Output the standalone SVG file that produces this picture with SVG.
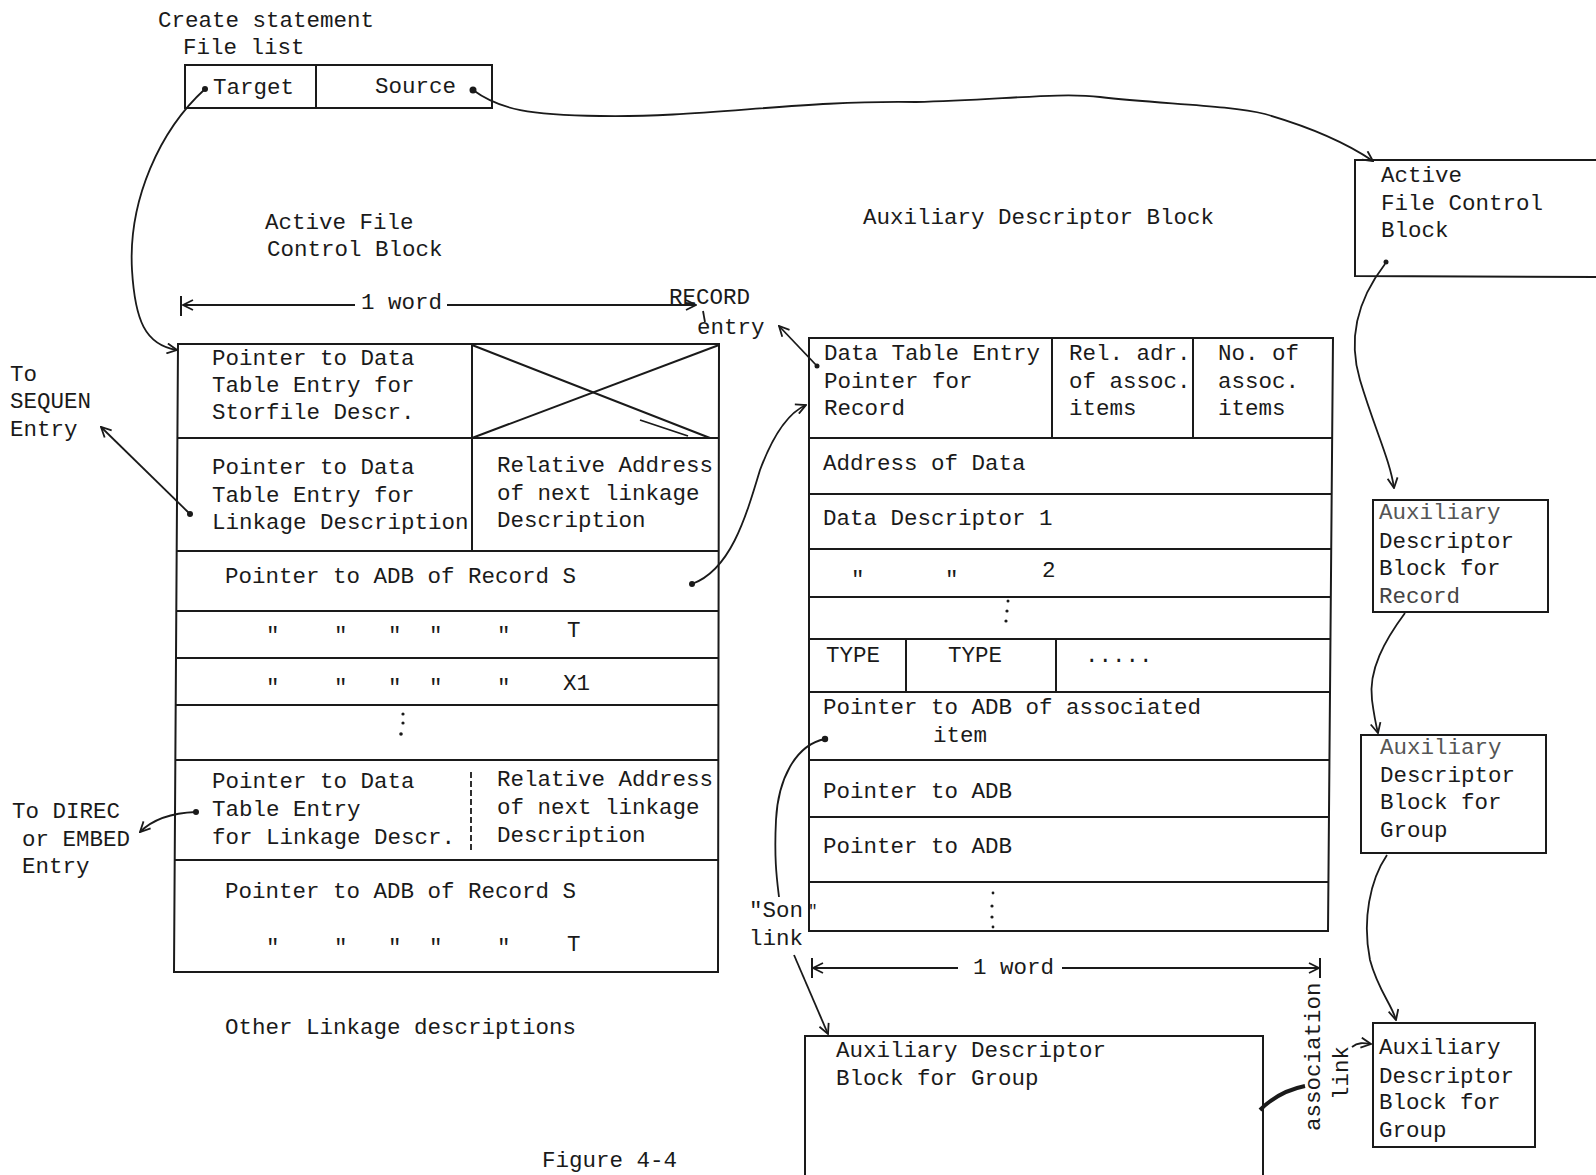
<svg xmlns="http://www.w3.org/2000/svg" width="1596" height="1175" viewBox="0 0 1596 1175">
<defs>
<style>
.t{font-family:"Liberation Mono","Courier New",monospace;font-size:22.5px;fill:#1a1a1a}
.b{fill:none;stroke:#1a1a1a;stroke-width:2}
.c{fill:none;stroke:#1a1a1a;stroke-width:1.8}
.d{fill:#1a1a1a}
</style>
<marker id="ah" viewBox="0 0 12 12" refX="11" refY="6" markerWidth="12" markerHeight="12" markerUnits="userSpaceOnUse" orient="auto">
<path d="M1,1 L11,6 L1,11" fill="none" stroke="#1a1a1a" stroke-width="1.8"/>
</marker>
<marker id="ahs" viewBox="0 0 12 12" refX="1" refY="6" markerWidth="12" markerHeight="12" markerUnits="userSpaceOnUse" orient="auto">
<path d="M11,1 L1,6 L11,11" fill="none" stroke="#1a1a1a" stroke-width="1.8"/>
</marker>
</defs>
<rect width="1596" height="1175" fill="#ffffff"/>

<g id="file-list">
<text class="t" x="158" y="27">Create statement</text>
<text class="t" x="183" y="54">File list</text>
<rect class="b" x="185" y="65" width="307" height="43"/>
<line class="b" x1="316" y1="65" x2="316" y2="108"/>
<text class="t" x="213" y="94">Target</text>
<text class="t" x="375" y="93">Source</text>
</g>

<g id="afcb-labels">
<text class="t" x="265" y="229">Active File</text>
<text class="t" x="267" y="256">Control Block</text>
<text class="t" x="361" y="309">1 word</text>
<text class="t" x="669" y="304">RECORD</text>
<text class="t" x="697" y="334">entry</text>
</g>

<g id="afcb">
<path class="b" d="M178,344 L719,344 L718,972 L174,972 Z"/>
<line class="b" x1="178" y1="438" x2="719" y2="438"/>
<line class="b" x1="177" y1="551" x2="719" y2="551"/>
<line class="b" x1="177" y1="611" x2="719" y2="611"/>
<line class="b" x1="177" y1="658" x2="719" y2="658"/>
<line class="b" x1="176" y1="705" x2="719" y2="705"/>
<line class="b" x1="176" y1="760" x2="719" y2="760"/>
<line class="b" x1="175" y1="860" x2="719" y2="860"/>
<line class="b" x1="472" y1="344" x2="472" y2="551"/>
<line class="c" x1="471" y1="772" x2="471" y2="850" stroke-dasharray="6,3"/>
<line class="b" x1="472" y1="438" x2="719" y2="345"/>
<line class="b" x1="472" y1="345" x2="710" y2="438"/>
<line class="c" x1="640" y1="420" x2="688" y2="436"/>
<text class="t" x="212" y="365">Pointer to Data</text>
<text class="t" x="212" y="392">Table Entry for</text>
<text class="t" x="212" y="419">Storfile Descr.</text>
<text class="t" x="212" y="474">Pointer to Data</text>
<text class="t" x="212" y="502">Table Entry for</text>
<text class="t" x="212" y="529">Linkage Description</text>
<text class="t" x="497" y="472">Relative Address</text>
<text class="t" x="497" y="500">of next linkage</text>
<text class="t" x="497" y="527">Description</text>
<text class="t" x="225" y="583">Pointer to ADB of Record S</text>
<text class="t" x="266" y="642">"</text><text class="t" x="334" y="642">"</text><text class="t" x="388" y="642">"</text><text class="t" x="429" y="642">"</text><text class="t" x="497" y="642">"</text>
<text class="t" x="567" y="637">T</text>
<text class="t" x="266" y="694">"</text><text class="t" x="334" y="694">"</text><text class="t" x="388" y="694">"</text><text class="t" x="429" y="694">"</text><text class="t" x="497" y="694">"</text>
<text class="t" x="563" y="690">X1</text>
<circle class="d" cx="403" cy="714" r="1.6"/><circle class="d" cx="403" cy="723" r="1.6"/><circle class="d" cx="401" cy="734" r="1.8"/>
<text class="t" x="212" y="788">Pointer to Data</text>
<text class="t" x="212" y="816">Table Entry</text>
<text class="t" x="212" y="844">for Linkage Descr.</text>
<text class="t" x="497" y="786">Relative Address</text>
<text class="t" x="497" y="814">of next linkage</text>
<text class="t" x="497" y="842">Description</text>
<text class="t" x="225" y="898">Pointer to ADB of Record S</text>
<text class="t" x="266" y="954">"</text><text class="t" x="334" y="954">"</text><text class="t" x="388" y="954">"</text><text class="t" x="429" y="954">"</text><text class="t" x="497" y="954">"</text>
<text class="t" x="567" y="951">T</text>
</g>

<g id="left-labels">
<text class="t" x="10" y="381">To</text>
<text class="t" x="10" y="408">SEQUEN</text>
<text class="t" x="10" y="436">Entry</text>
<text class="t" x="12" y="818">To DIREC</text>
<text class="t" x="22" y="846">or EMBED</text>
<text class="t" x="22" y="873">Entry</text>
<text class="t" x="225" y="1034">Other Linkage descriptions</text>
<text class="t" x="542" y="1167">Figure 4-4</text>
</g>

<g id="adb">
<text class="t" x="863" y="224">Auxiliary Descriptor Block</text>
<path class="b" d="M809,338 L1333,338 L1328,931 L809,931 Z"/>
<line class="b" x1="809" y1="438" x2="1333" y2="438"/>
<line class="b" x1="809" y1="494" x2="1332" y2="494"/>
<line class="b" x1="809" y1="549" x2="1332" y2="549"/>
<line class="c" x1="809" y1="597" x2="1331" y2="597"/>
<line class="b" x1="809" y1="639" x2="1331" y2="639"/>
<line class="b" x1="809" y1="692" x2="1331" y2="692"/>
<line class="b" x1="809" y1="760" x2="1330" y2="760"/>
<line class="b" x1="809" y1="817" x2="1329" y2="817"/>
<line class="b" x1="809" y1="882" x2="1329" y2="882"/>
<line class="b" x1="1052" y1="338" x2="1052" y2="438"/>
<line class="b" x1="1193" y1="338" x2="1193" y2="438"/>
<line class="b" x1="906" y1="639" x2="906" y2="692"/>
<line class="b" x1="1056" y1="639" x2="1056" y2="692"/>
<text class="t" x="824" y="360">Data Table Entry</text>
<text class="t" x="824" y="388">Pointer for</text>
<text class="t" x="824" y="415">Record</text>
<text class="t" x="1069" y="360">Rel. adr.</text>
<text class="t" x="1069" y="388">of assoc.</text>
<text class="t" x="1069" y="415">items</text>
<text class="t" x="1218" y="360">No. of</text>
<text class="t" x="1218" y="388">assoc.</text>
<text class="t" x="1218" y="415">items</text>
<text class="t" x="823" y="470">Address of Data</text>
<text class="t" x="823" y="525">Data Descriptor 1</text>
<text class="t" x="851" y="586">"</text><text class="t" x="945" y="586">"</text>
<text class="t" x="1042" y="577">2</text>
<circle class="d" cx="1008" cy="601" r="1.5"/><circle class="d" cx="1007" cy="611" r="1.6"/><circle class="d" cx="1006" cy="621" r="1.6"/>
<text class="t" x="826" y="662">TYPE</text>
<text class="t" x="948" y="662">TYPE</text>
<text class="t" x="1085" y="662">.....</text>
<text class="t" x="823" y="714">Pointer to ADB of associated</text>
<text class="t" x="933" y="742">item</text>
<text class="t" x="823" y="798">Pointer to ADB</text>
<text class="t" x="823" y="853">Pointer to ADB</text>
<circle class="d" cx="993" cy="893" r="1.4"/><circle class="d" cx="992" cy="906" r="1.6"/><circle class="d" cx="992" cy="917" r="1.6"/><circle class="d" cx="993" cy="927" r="1.4"/>
<text class="t" x="749" y="917">"Son</text>
<text class="t" x="808" y="916" style="font-size:16px">"</text>
<text class="t" x="749" y="945">link</text>
<text class="t" x="973" y="974">1 word</text>
</g>

<g id="adb-group-bottom">
<path class="b" d="M805,1175 L805,1036 L1263,1036 L1263,1175"/>
<text class="t" x="836" y="1057">Auxiliary Descriptor</text>
<text class="t" x="836" y="1085">Block for Group</text>
</g>

<g id="assoc-label">
<text class="t" transform="translate(1320,1131) rotate(-90)">association</text>
<text class="t" transform="translate(1348,1100) rotate(-90)">link</text>
</g>

<g id="afcb-right">
<path class="b" d="M1596,160 L1355,160 L1355,276 L1596,277"/>
<text class="t" x="1381" y="182">Active</text>
<text class="t" x="1381" y="210">File Control</text>
<text class="t" x="1381" y="237">Block</text>
</g>

<g id="adb-record-right">
<rect class="b" x="1373" y="500" width="175" height="112"/>
<text class="t" x="1379" y="519" style="fill:#555">Auxiliary</text>
<text class="t" x="1379" y="548">Descriptor</text>
<text class="t" x="1379" y="575">Block for</text>
<text class="t" x="1379" y="603" style="fill:#444">Record</text>
</g>

<g id="adb-group-right">
<rect class="b" x="1361" y="735" width="185" height="118"/>
<text class="t" x="1380" y="754" style="fill:#555">Auxiliary</text>
<text class="t" x="1380" y="782">Descriptor</text>
<text class="t" x="1380" y="809">Block for</text>
<text class="t" x="1380" y="837">Group</text>
</g>

<g id="adb-group-right-2">
<rect class="b" x="1373" y="1023" width="162" height="124"/>
<text class="t" x="1379" y="1054">Auxiliary</text>
<text class="t" x="1379" y="1083">Descriptor</text>
<text class="t" x="1379" y="1109">Block for</text>
<text class="t" x="1379" y="1137">Group</text>
</g>

<g id="connectors">
<path class="c" d="M205,89 C160,130 128,200 132,270 C135,320 145,345 177,350" marker-end="url(#ah)"/>
<circle class="d" cx="205" cy="89" r="3"/>
<path class="c" d="M473,90 C500,110 530,115 600,116 C700,118 800,100 916,102 C1000,100 1060,92 1100,97 C1160,104 1230,105 1265,114 C1310,127 1345,142 1373,161" marker-end="url(#ah)" stroke-width="2.2"/>
<circle class="d" cx="473" cy="90" r="3.5"/>
<path class="c" d="M1385,264 C1365,290 1345,330 1360,380 C1375,430 1390,460 1394,488" marker-end="url(#ah)" stroke-width="1.4"/>
<circle class="d" cx="1386" cy="262" r="2.5"/>
<path class="c" d="M1405,613 C1385,640 1368,670 1372,700 C1374,715 1376,725 1378,733" marker-end="url(#ah)" stroke-width="1.4"/>
<path class="c" d="M1387,855 C1370,880 1362,920 1370,960 C1378,990 1392,1005 1396,1020" marker-end="url(#ah)" stroke-width="1.4"/>
<path class="c" d="M1352,1047 C1358,1042 1364,1043 1371,1044" marker-end="url(#ah)"/>
<path class="c" d="M190,514 L101,427" marker-end="url(#ah)"/>
<circle class="d" cx="190" cy="514" r="3"/>
<path class="c" d="M196,812 C170,813 152,820 140,832" marker-end="url(#ah)"/>
<circle class="d" cx="196" cy="812" r="3"/>
<path class="c" d="M817,366 L779,326" marker-end="url(#ah)"/>
<circle class="d" cx="817" cy="366" r="2.5"/>
<path class="c" d="M692,584 C730,570 745,520 760,470 C775,430 790,412 806,405" marker-end="url(#ah)" stroke-width="1.4"/>
<circle class="d" cx="692" cy="584" r="3"/>
<path class="c" d="M825,739 C795,745 778,780 776,820 C774,860 777,880 779,897"/>
<circle class="d" cx="825" cy="739" r="3.2"/>
<path class="c" d="M794,955 L828,1034" marker-end="url(#ah)"/>
<path d="M1260,1110 C1275,1095 1290,1089 1305,1086" fill="none" stroke="#1a1a1a" stroke-width="4"/>
<line class="c" x1="703" y1="311" x2="705" y2="322"/>
<line class="c" x1="183" y1="305" x2="355" y2="305" marker-start="url(#ahs)"/>
<line class="c" x1="447" y1="305" x2="696" y2="305" marker-end="url(#ah)"/>
<line class="b" x1="181" y1="296" x2="181" y2="316"/>
<line class="c" x1="813" y1="968" x2="958" y2="968" marker-start="url(#ahs)"/>
<line class="c" x1="1062" y1="968" x2="1319" y2="968" marker-end="url(#ah)"/>
<line class="b" x1="812" y1="958" x2="812" y2="978"/>
<line class="b" x1="1320" y1="958" x2="1320" y2="978"/>
</g>
</svg>
